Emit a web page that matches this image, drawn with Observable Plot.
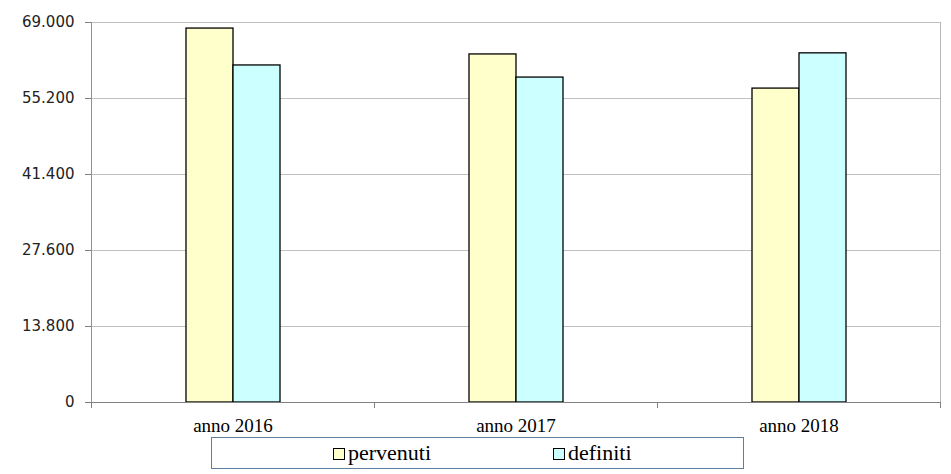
<!DOCTYPE html>
<html>
<head>
<meta charset="utf-8">
<script src="https://cdn.jsdelivr.net/npm/d3@7"></script>
<script src="https://cdn.jsdelivr.net/npm/@observablehq/plot@0.6"></script>
<style>
  html, body { margin: 0; padding: 0; background: #fff; }
  #wrap { position: relative; width: 951px; height: 474px; }
  #legend { position: absolute; left: 0; top: 437px; }
</style>
</head>
<body>
<div id="wrap">
  <div id="chart"></div>
  <div id="legend"></div>
</div>
<script>
// ---- data ----
const years = ["anno 2016", "anno 2017", "anno 2018"];
const seriesNames = ["pervenuti", "definiti"];
const pervenuti = [67900, 63200, 57000];
const definiti = [61200, 59000, 63400];
const yTicks = [0, 13800, 27600, 41400, 55200, 69000];
const seriesColors = ["#FFFFCC", "#CCFFFF"];

const data = [];
years.forEach((yr, i) => {
  data.push({year: yr, series: seriesNames[0], value: pervenuti[i]});
  data.push({year: yr, series: seriesNames[1], value: definiti[i]});
});

const itFormat = d3.formatLocale({decimal: ",", thousands: ".", grouping: [3], currency: ["€", ""]}).format(",");
const serif = "Liberation Serif, serif";

const plot = Plot.plot({
  width: 951,
  height: 437,
  marginLeft: 91,
  marginRight: 11,
  marginTop: 22,
  marginBottom: 35,
  style: {fontFamily: "DejaVu Sans, sans-serif", fontSize: "15px", color: "#000", background: "#fff"},
  fx: {domain: years, padding: 0, label: null},
  x: {domain: seriesNames, paddingInner: 0, paddingOuter: 2, axis: null},
  y: {domain: [0, 69000], label: null},
  color: {domain: seriesNames, range: seriesColors},
  marks: [
    Plot.gridY(yTicks, {stroke: "#c0c0c0", strokeOpacity: 1}),
    Plot.barY(data, {fx: "year", x: "series", y: "value", fill: "series", stroke: "#000", strokeWidth: 1.3}),
    Plot.axisY(yTicks, {tickSize: 6, tickPadding: 11, tickFormat: itFormat, stroke: "#808080", fill: "#222", fontSize: 15, fontFamily: "DejaVu Sans, sans-serif", label: null}),
    Plot.axisFx({anchor: "bottom", tickSize: 0, tickPadding: 16, fontFamily: serif, fontSize: 19, fill: "#000", label: null})
  ]
});

document.getElementById("chart").appendChild(plot);

// frame lines and category boundary ticks from the plot's own scales
const fx = plot.scale("fx");
const ys = plot.scale("y");
const bounds = years.map(d => fx.apply(d)).concat([fx.apply(years[years.length - 1]) + fx.bandwidth]);
const x0 = bounds[0], x1 = bounds[bounds.length - 1];
const y0 = ys.apply(0), yTop = ys.apply(yTicks[yTicks.length - 1]);
const svg = d3.select(plot);
const g = svg.append("g").attr("shape-rendering", "crispEdges");
g.append("line").attr("x1", x0).attr("x2", x0).attr("y1", yTop).attr("y2", y0).attr("stroke", "#909090");
g.append("line").attr("x1", x1).attr("x2", x1).attr("y1", yTop).attr("y2", y0).attr("stroke", "#b8b8b8");
g.append("line").attr("x1", x0).attr("x2", x1).attr("y1", y0).attr("y2", y0).attr("stroke", "#808080");
g.selectAll("line.tk").data(bounds).join("line").attr("class", "tk")
  .attr("x1", d => d).attr("x2", d => d).attr("y1", y0).attr("y2", y0 + 6).attr("stroke", "#808080");

// legend (SVG, below the chart)
const lg = d3.select("#legend").append("svg").attr("width", 951).attr("height", 37);
lg.append("rect").attr("x", 211.5).attr("y", 0.5).attr("width", 532).attr("height", 31)
  .attr("fill", "#fff").attr("stroke", "#5f7d9c");
const itemX = [333, 553];
seriesNames.forEach((s, i) => {
  lg.append("rect").attr("x", itemX[i] + 0.5).attr("y", 11.5).attr("width", 11).attr("height", 11)
    .attr("fill", seriesColors[i]).attr("stroke", "#000");
  lg.append("text").attr("x", itemX[i] + 15).attr("y", 23)
    .attr("font-family", serif).attr("font-size", 22).attr("fill", "#000").text(s);
});
</script>
</body>
</html>
